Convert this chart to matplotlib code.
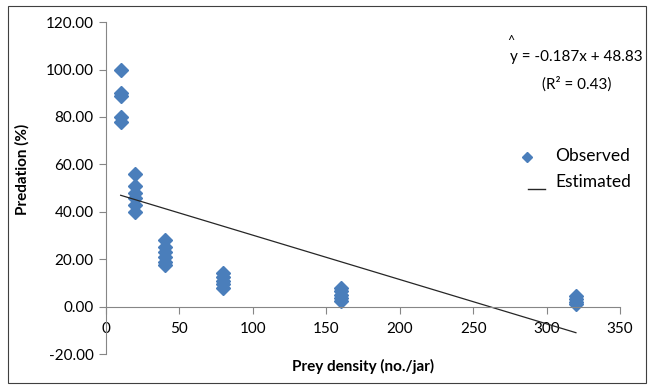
import matplotlib.pyplot as plt
from matplotlib.lines import Line2D
from matplotlib.patches import Rectangle

# observed predation (%) per prey density
density = [10, 10, 10, 10, 10,
           20, 20, 20, 20, 20, 20,
           40, 40, 40, 40, 40, 40,
           80, 80, 80, 80, 80,
           160, 160, 160, 160, 160,
           320, 320, 320, 320]
predation = [100, 90, 89, 80, 78,
             56, 51, 48, 46, 43, 40,
             28, 25, 23, 21, 19, 17.5,
             14, 12.5, 11, 9.5, 8,
             8, 6.5, 5, 3.5, 2.5,
             4.5, 3, 2, 1]

slope = -0.187
intercept = 48.83
line_x = [10, 320]

xticks = [0, 50, 100, 150, 200, 250, 300, 350]
yticks = [-20, 0, 20, 40, 60, 80, 100, 120]

plt.rcParams['font.family'] = ['Lato', 'DejaVu Sans']
blue = '#4a7ebb'
grey = '#868686'

fig = plt.figure(figsize=(6.49, 3.85), dpi=100)
ax = fig.add_axes([0.1633, 0.0805, 0.792, 0.862])

ax.plot(density, predation, linestyle='none', marker='D', markersize=6.8,
        color=blue, markeredgecolor=blue)
line_y = [slope * v + intercept for v in line_x]
ax.plot(line_x, line_y, color='#262626', linewidth=0.9)

ax.set_xlim(0, 350)
ax.set_ylim(-20, 120)
ax.set_xticks(xticks)
ax.set_yticks(yticks)
ax.set_yticklabels(['%.2f' % t for t in yticks])
ax.set_xticklabels([str(t) for t in xticks])

for s in ['top', 'right']:
    ax.spines[s].set_visible(False)
ax.spines['bottom'].set_position(('data', 0))
ax.spines['bottom'].set_color(grey)
ax.spines['left'].set_color(grey)
ax.spines['left'].set_bounds(-20, 120)
ax.tick_params(axis='both', colors=grey, labelcolor='#000000', labelsize=11,
               length=5, width=0.8)
ax.tick_params(axis='x', pad=6)
ax.tick_params(axis='y', pad=4)
ax.set_clip_on(False)

fig.text(0.034, 0.56, 'Predation (%)', rotation=90, ha='center', va='center',
         fontsize=11, fontweight='bold')
fig.text(0.56, 0.048, 'Prey density (no./jar)', ha='center', va='center',
         fontsize=11, fontweight='bold')

# equation and legend
fig.text(0.888, 0.852, 'y = -0.187x + 48.83', ha='center', va='center', fontsize=11)
fig.text(0.787, 0.893, '^', ha='center', va='center', fontsize=9)
fig.text(0.889, 0.782, '(R² = 0.43)', ha='center', va='center', fontsize=11)

fig.add_artist(Line2D([0.812], [0.592], marker='D', markersize=5, color=blue,
                      transform=fig.transFigure))
fig.text(0.855, 0.594, 'Observed', ha='left', va='center', fontsize=12.5)
fig.add_artist(Line2D([0.814, 0.84], [0.508, 0.508], color='#262626', linewidth=1,
                      transform=fig.transFigure))
fig.text(0.855, 0.527, 'Estimated', ha='left', va='center', fontsize=12.5)

fig.add_artist(Rectangle((0.012, 0.005), 0.984, 0.98, fill=False,
                         edgecolor='#404040', linewidth=0.8, transform=fig.transFigure))

fig.savefig('out.png', dpi=100)
